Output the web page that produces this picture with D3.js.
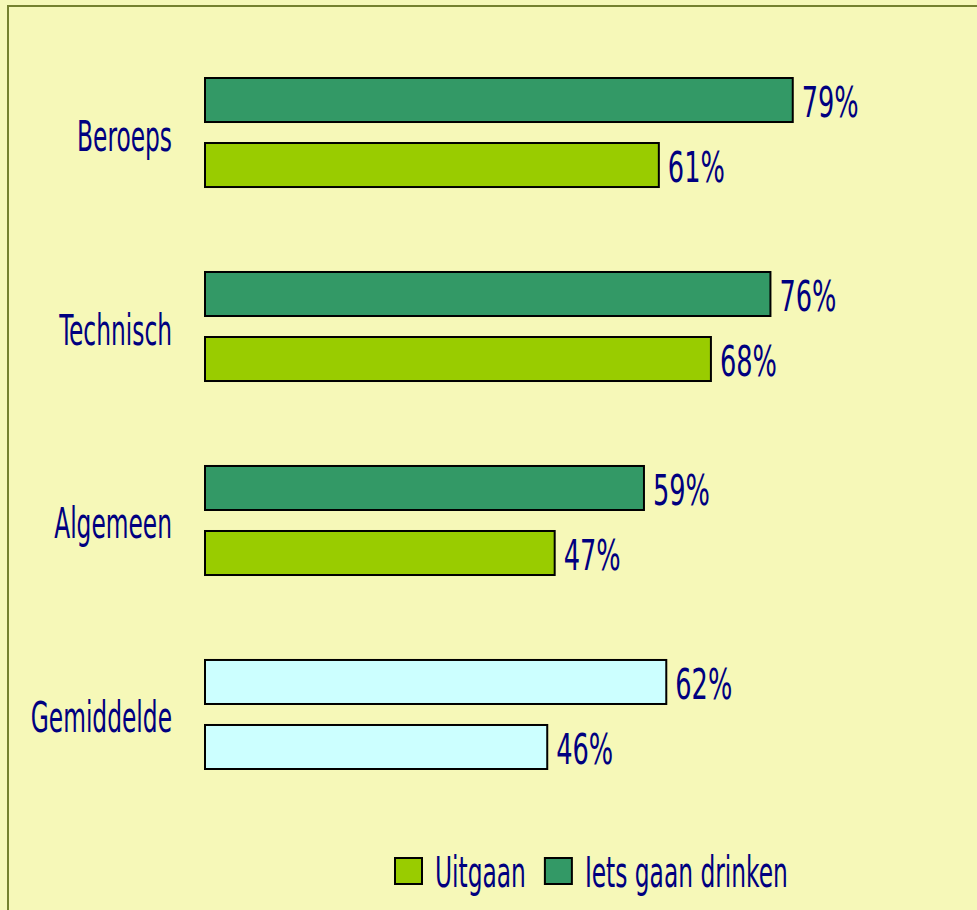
<!DOCTYPE html>
<html>
<head>
<meta charset="utf-8">
<script src="https://cdn.jsdelivr.net/npm/d3@7"></script>
<style>
  body { margin: 0; background: #f6f8b8; }
  svg { display: block; }
  text { font-family: "Liberation Sans Narrow", "DejaVu Sans Condensed", sans-serif; fill: #000080; }
</style>
</head>
<body>
<script>
// chart size
const c_width = 977;
const c_height = 910;

// data
const categories = ['Beroeps', 'Technisch', 'Algemeen', 'Gemiddelde'];
const series = ['drinken', 'uitgaan'];
const seriesNames = { uitgaan: 'Uitgaan', drinken: 'Iets gaan drinken' };
const uitgaan = [61, 68, 47, 46];
const drinken = [79, 76, 59, 62];
const legendOrder = ['uitgaan', 'drinken'];

const colors = { drinken: '#339966', uitgaan: '#99cc00' };
const avgColor = '#ccffff';

const svg = d3.select('body').append('svg')
  .attr('width', c_width)
  .attr('height', c_height);

// frame
svg.append('rect')
  .attr('x', 8).attr('y', 6)
  .attr('width', c_width + 20).attr('height', c_height + 20)
  .attr('fill', '#f6f8b8')
  .attr('stroke', '#75812f')
  .attr('stroke-width', 2);

const fontSize = 42;

// measure condensing factors so the fallback face is as narrow as the original one
function measure(str) {
  const p = svg.append('text').attr('font-size', fontSize).text(str);
  const w = p.node().getComputedTextLength();
  p.remove();
  return w;
}
const sx = 95 / measure('Beroeps');
const sxNum = 57 / measure('79%');

// scales
const x = d3.scaleLinear().domain([0, 100]).range([205, 949]);
const y = d3.scaleBand().domain(categories).range([78, 769]).paddingInner(0.438);
const yInner = d3.scaleBand().domain(series).range([0, y.bandwidth()]).paddingInner(0.323);

const rows = categories.map((c, i) => ({ cat: c, uitgaan: uitgaan[i], drinken: drinken[i] }));

const groups = svg.append('g').selectAll('g')
  .data(rows)
  .enter()
  .append('g')
  .attr('transform', d => 'translate(0,' + y(d.cat) + ')');

const bars = groups.selectAll('g.bar')
  .data(d => series.map(s => ({ cat: d.cat, key: s, value: d[s] })))
  .enter()
  .append('g')
  .attr('class', 'bar');

bars.append('rect')
  .attr('x', x(0))
  .attr('y', d => yInner(d.key))
  .attr('width', d => x(d.value) - x(0))
  .attr('height', yInner.bandwidth())
  .attr('fill', d => d.cat === 'Gemiddelde' ? avgColor : colors[d.key])
  .attr('stroke', '#000')
  .attr('stroke-width', 2);

bars.append('text')
  .attr('transform', d => 'translate(' + (x(d.value) + 9) + ',' + (yInner(d.key) + yInner.bandwidth() / 2 + 17) + ') scale(' + sxNum + ',1)')
  .attr('font-size', fontSize)
  .text(d => d.value + '%');

// category labels
groups.append('text')
  .attr('transform', 'translate(172,' + (y.bandwidth() / 2 + 18) + ') scale(' + sx + ',1)')
  .attr('text-anchor', 'end')
  .attr('font-size', fontSize)
  .text(d => d.cat);

// legend
const legend = svg.append('g').attr('id', 'legend');
let lx = 395;
legendOrder.forEach(k => {
  legend.append('rect')
    .attr('x', lx).attr('y', 858)
    .attr('width', 27).attr('height', 26)
    .attr('fill', colors[k])
    .attr('stroke', '#000')
    .attr('stroke-width', 2);
  const t = legend.append('text')
    .attr('transform', 'translate(' + (lx + 40) + ',887) scale(' + sx + ',1)')
    .attr('font-size', fontSize)
    .text(seriesNames[k]);
  lx += 40 + t.node().getComputedTextLength() * sx + 19;
});
</script>
</body>
</html>
